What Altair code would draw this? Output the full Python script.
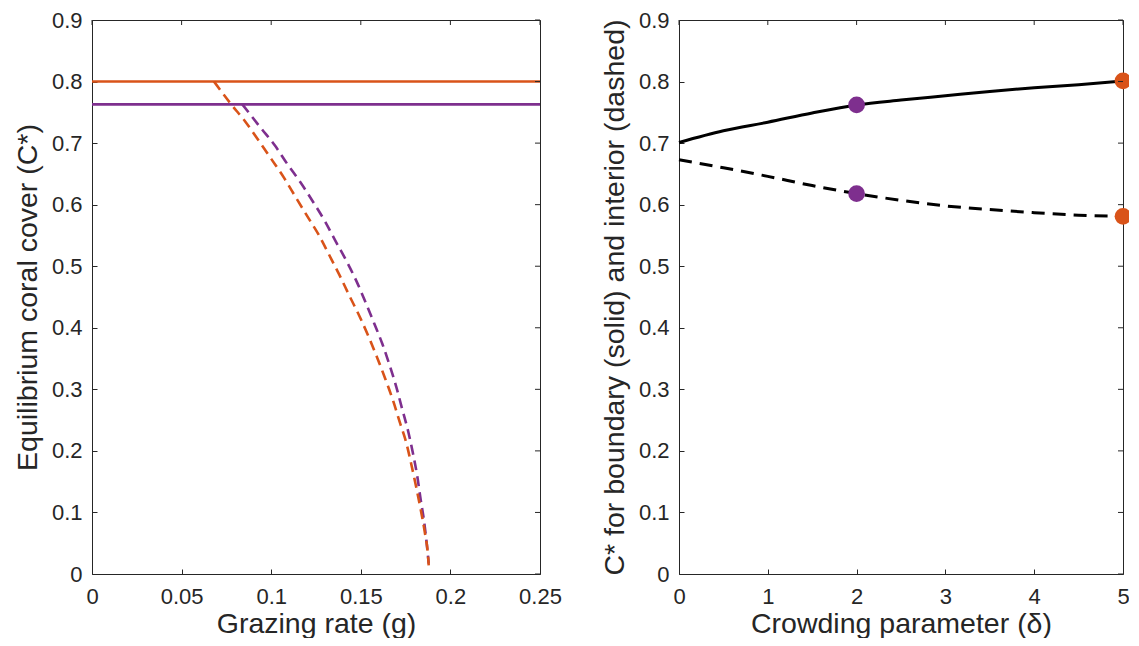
import altair as alt
import pandas as pd

ORANGE = "#D95319"
PURPLE = "#7E2F8E"
INK = "#262626"
FONT = "Liberation Sans"
TICK = 5
LABEL_SIZE = 22
TITLE_SIZE = 28.5

# ---------------- left panel: grazing rate ----------------
g_ticks = [0, 0.05, 0.1, 0.15, 0.2, 0.25]
c_ticks = [0, 0.1, 0.2, 0.3, 0.4, 0.5, 0.6, 0.7, 0.8, 0.9]
g_span = [0, 0.25]
c_span = [0, 0.9]
boundary_orange = 0.800
boundary_purple = 0.763

g_orange = [0.0681, 0.0774, 0.0858, 0.0928, 0.1001, 0.1071, 0.1137, 0.1202, 0.1267,
            0.1326, 0.1382, 0.1438, 0.1494, 0.1546, 0.1592, 0.1638, 0.1682, 0.1717,
            0.1754, 0.1782, 0.1810, 0.1834, 0.1857, 0.1875, 0.1879]
c_orange = [0.800, 0.764, 0.734, 0.705, 0.674, 0.644, 0.612, 0.581, 0.550,
            0.517, 0.485, 0.451, 0.418, 0.384, 0.351, 0.316, 0.280, 0.247,
            0.213, 0.178, 0.140, 0.105, 0.068, 0.030, 0.014]

g_purple = [0.0839, 0.0941, 0.1021, 0.1090, 0.1164, 0.1235, 0.1300, 0.1357, 0.1421,
            0.1477, 0.1527, 0.1575, 0.1620, 0.1661, 0.1698, 0.1730, 0.1765, 0.1791,
            0.1815, 0.1834, 0.1853, 0.1867, 0.1879]
c_purple = [0.763, 0.725, 0.696, 0.666, 0.636, 0.604, 0.573, 0.542, 0.508,
            0.475, 0.441, 0.407, 0.374, 0.339, 0.304, 0.269, 0.231, 0.196,
            0.159, 0.121, 0.086, 0.052, 0.017]

# ---------------- right panel: crowding parameter ----------------
d_ticks = [0, 1, 2, 3, 4, 5]
d_span = [0, 5]
delta = [0, 0.5, 1, 1.5, 2, 2.5, 3, 3.5, 4, 4.5, 5]
c_bound = [0.701, 0.720, 0.734, 0.749, 0.762, 0.770, 0.777, 0.784, 0.790, 0.795, 0.801]
c_inter = [0.673, 0.660, 0.646, 0.631, 0.618, 0.607, 0.598, 0.592, 0.587, 0.583, 0.581]
pt_delta = [2, 2, 5, 5]
pt_c = [0.762, 0.618, 0.801, 0.581]
pt_series = ["a", "a", "b", "b"]

series_scale = alt.Scale(domain=["a", "b"], range=[PURPLE, ORANGE])

# ---------------- data tables ----------------
df_h = pd.DataFrame({
    "g": g_span + g_span,
    "C": [boundary_purple] * 2 + [boundary_orange] * 2,
    "s": ["a", "a", "b", "b"],
})
df_dash = pd.DataFrame({
    "g": g_purple + g_orange,
    "C": c_purple + c_orange,
    "s": ["a"] * len(g_purple) + ["b"] * len(g_orange),
    "i": list(range(len(g_purple))) + list(range(len(g_orange))),
})
df_r = pd.DataFrame({"d": delta, "cb": c_bound, "ci": c_inter})
df_pts = pd.DataFrame({"d": pt_delta, "C": pt_c, "s": pt_series})


def main_axis(vals, orient, title, lab_pad, title_pad):
    # axis line pulled TICK px inside the frame, so its outward ticks point inward
    return alt.Axis(values=vals, format="~g", orient=orient, offset=-TICK,
                    ticks=True, tickSize=TICK, tickColor=INK, tickWidth=1,
                    domain=False, grid=False, labelFontSize=LABEL_SIZE, labelPadding=lab_pad,
                    labelColor=INK, labelFont=FONT, labelFlush=False, labelOverlap=False,
                    title=title, titleFontSize=TITLE_SIZE, titleFont=FONT, titleColor=INK,
                    titleFontWeight="normal", titlePadding=title_pad)


def mirror_ticks(xt, yt, xscale, yscale, xdom, ydom, xaxis, yaxis):
    """Inward ticks on the top and right edges, built from the tick value lists."""
    dfx = pd.DataFrame({"v": xt})
    dfy = pd.DataFrame({"v": yt})
    rule = dict(color=INK, strokeWidth=1)
    top = alt.Chart(dfx).mark_rule(y2Offset=TICK, **rule).encode(
        x=alt.X("v:Q", scale=xscale, axis=xaxis),
        y=alt.YDatum(ydom[1], axis=yaxis), y2=alt.Y2Datum(ydom[1]))
    right = alt.Chart(dfy).mark_rule(x2Offset=-TICK, **rule).encode(
        y=alt.Y("v:Q", scale=yscale, axis=yaxis),
        x=alt.XDatum(xdom[1], axis=xaxis), x2=alt.X2Datum(xdom[1]))
    return [top, right]


gx = alt.Scale(domain=g_span, nice=False, zero=False)
cy = alt.Scale(domain=c_span, nice=False, zero=False)
dx = alt.Scale(domain=d_span, nice=False, zero=False)

PLOT_H = 554

gx_axis = main_axis(g_ticks, "bottom", "Grazing rate (g)", 12, 2)
cl_axis = main_axis(c_ticks, "left", "Equilibrium coral cover (C*)", 10, 9)
dx_axis = main_axis(d_ticks, "bottom", "Crowding parameter (δ)", 12, 2)
cr_axis = main_axis(c_ticks, "left", "C* for boundary (solid) and interior (dashed)", 10, 9)

left_h = alt.Chart(df_h).mark_line(strokeWidth=2.6).encode(
    x=alt.X("g:Q", scale=gx, axis=gx_axis),
    y=alt.Y("C:Q", scale=cy, axis=cl_axis),
    color=alt.Color("s:N", scale=series_scale, legend=None),
    detail="s:N",
)
left_d = alt.Chart(df_dash).mark_line(strokeWidth=2.6, strokeDash=[10, 6], interpolate="monotone").encode(
    x=alt.X("g:Q", scale=gx, axis=gx_axis),
    y=alt.Y("C:Q", scale=cy, axis=cl_axis),
    color=alt.Color("s:N", scale=series_scale, legend=None),
    order="i:Q",
)
left = alt.layer(left_h, left_d, *mirror_ticks(g_ticks, c_ticks, gx, cy, g_span, c_span, gx_axis, cl_axis)).properties(
    width=448, height=PLOT_H)

right_b = alt.Chart(df_r).mark_line(strokeWidth=3, color="black", interpolate="monotone").encode(
    x=alt.X("d:Q", scale=dx, axis=dx_axis),
    y=alt.Y("cb:Q", scale=cy, axis=cr_axis),
)
right_i = alt.Chart(df_r).mark_line(strokeWidth=3, color="black", strokeDash=[13, 8], interpolate="monotone").encode(
    x=alt.X("d:Q", scale=dx, axis=dx_axis),
    y=alt.Y("ci:Q", scale=cy, axis=cr_axis),
)
right_p = alt.Chart(df_pts).mark_circle(size=280, opacity=1).encode(
    x=alt.X("d:Q", scale=dx, axis=dx_axis),
    y=alt.Y("C:Q", scale=cy, axis=cr_axis),
    color=alt.Color("s:N", scale=series_scale, legend=None),
)
right = alt.layer(right_b, right_i, right_p, *mirror_ticks(d_ticks, c_ticks, dx, cy, d_span, c_span, dx_axis, cr_axis)).properties(
    width=444, height=PLOT_H)

chart = alt.hconcat(left, right, spacing=139, bounds="flush").properties(
    padding={"left": 4, "top": 0, "right": -3, "bottom": 0},
    background="white",
).configure_view(stroke=INK, strokeWidth=1)

chart.save("out.html", embed_options={"renderer": "svg", "actions": False})
